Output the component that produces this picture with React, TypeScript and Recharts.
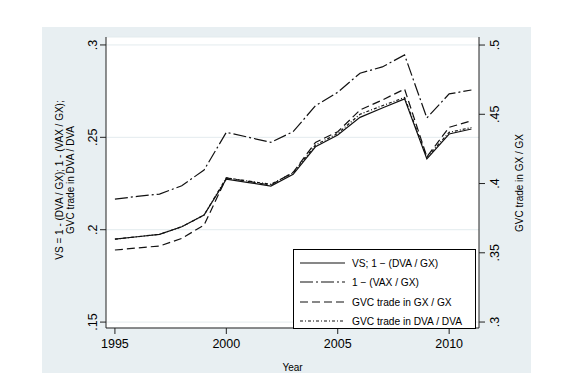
import { ComposedChart, Line, XAxis, YAxis, CartesianGrid, Legend } from 'recharts';

const YEARS = [1995, 1996, 1997, 1998, 1999, 2000, 2001, 2002, 2003, 2004, 2005, 2006, 2007, 2008, 2009, 2010, 2011];

// left axis
const VS = [0.1949, 0.1962, 0.1975, 0.2016, 0.2079, 0.2274, 0.2255, 0.2236, 0.23, 0.2449, 0.2513, 0.2608, 0.2659, 0.2708, 0.2383, 0.2518, 0.2545];
const ONE_MINUS_VAX = [0.2166, 0.218, 0.2193, 0.2238, 0.2323, 0.2527, 0.25, 0.2473, 0.2531, 0.2671, 0.2744, 0.2847, 0.2881, 0.2946, 0.2605, 0.2735, 0.2756];
const GVC_DVA = [0.1949, 0.1962, 0.1975, 0.2016, 0.2079, 0.2281, 0.2263, 0.2246, 0.2308, 0.2458, 0.2521, 0.2625, 0.2671, 0.2716, 0.2392, 0.2527, 0.2553];
// right axis
const GVC_GX = [0.352, 0.3535, 0.3549, 0.3604, 0.37, 0.404, 0.4015, 0.3989, 0.4081, 0.4297, 0.4374, 0.4531, 0.4603, 0.4682, 0.4193, 0.4406, 0.4453];

const X_TICKS = [1995, 2000, 2005, 2010];
const LEFT_TICKS = [0.15, 0.2, 0.25, 0.3];
const RIGHT_TICKS = [0.3, 0.35, 0.4, 0.45, 0.5];

const data = YEARS.map((year, i) => ({
  year,
  vs: VS[i],
  vax: ONE_MINUS_VAX[i],
  gx: GVC_GX[i],
  dva: GVC_DVA[i],
}));

const FONT = '"Liberation Sans", Arial, Helvetica, sans-serif';
const INK = '#111';

const SERIES = [
  { key: 'vs', axis: 'left', label: 'VS; 1 − (DVA / GX)', dash: undefined },
  { key: 'vax', axis: 'left', label: '1 − (VAX / GX)', dash: '13 3 2 3' },
  { key: 'gx', axis: 'right', label: 'GVC trade in GX / GX', dash: '8 4' },
  { key: 'dva', axis: 'left', label: 'GVC trade in DVA / DVA', dash: '3 2 1 2' },
];

const stataNum = (v: number) => String(v).replace(/^0/, '');

function LeftTick(p: any) {
  const x = p.x - 1;
  return (
    <text x={x} y={p.y} transform={`rotate(-90 ${x} ${p.y})`} textAnchor="middle"
      fontSize={12.5} fontFamily={FONT} fill="#000">
      {stataNum(p.payload.value)}
    </text>
  );
}

function RightTick(p: any) {
  const x = p.x + 12;
  return (
    <text x={x} y={p.y} transform={`rotate(-90 ${x} ${p.y})`} textAnchor="middle"
      fontSize={12.5} fontFamily={FONT} fill="#000">
      {stataNum(p.payload.value)}
    </text>
  );
}

function renderLegend() {
  const rows = [14, 33, 53, 72];
  return (
    <svg width={183} height={80} style={{ display: 'block' }}>
      <rect x={0.5} y={0.5} width={182} height={79} fill="#fff" stroke="#000" strokeWidth={1} />
      {SERIES.map((s, i) => (
        <g key={s.key}>
          <line x1={7} x2={52} y1={rows[i]} y2={rows[i]} stroke={INK} strokeWidth={1.2} strokeDasharray={s.dash} />
          <text x={59} y={rows[i] + 3.7} fontSize={10.2} fontFamily={FONT} fill="#000">{s.label}</text>
        </g>
      ))}
    </svg>
  );
}

export default function App() {
  return (
    <div style={{ position: 'absolute', left: 0, top: 0, width: 573, height: 379, background: '#fff' }}>
      <div style={{ position: 'absolute', left: 42, top: 27, width: 489, height: 346, background: '#e8eff2' }} />
      <div style={{ position: 'absolute', left: 0, top: 0 }}>
        <ComposedChart width={573} height={379} data={data} margin={{ top: 37, right: 0, bottom: 0, left: 0 }}>
          <CartesianGrid yAxisId="left" vertical={false} stroke="#e3ebee" fill="#fff" fillOpacity={1} />
          <XAxis dataKey="year" type="number" domain={[1994.6, 2011.34]} ticks={X_TICKS} height={51}
            tickSize={6} tickMargin={5} stroke="#222" allowDataOverflow
            tick={{ fontSize: 12.5, fill: '#000', fontFamily: FONT }}
            label={{
              content: () => (
                <text x={292.5} y={371} textAnchor="middle" fontSize={10} fontFamily={FONT} fill="#000">Year</text>
              ),
            }}
          />
          <YAxis yAxisId="left" orientation="left" width={106} domain={[0.1468, 0.3043]} ticks={LEFT_TICKS}
            tickSize={6} stroke="#222" allowDataOverflow tick={LeftTick}
            label={{
              content: () => (
                <g fontSize={10} fontFamily={FONT} fill="#000">
                  <text x={63} y={180} transform="rotate(-90 63 180)" textAnchor="middle">VS = 1 - (DVA / GX); 1 - (VAX / GX);</text>
                  <text x={74} y={180} transform="rotate(-90 74 180)" textAnchor="middle">GVC trade in DVA / DVA</text>
                </g>
              ),
            }}
          />
          <YAxis yAxisId="right" orientation="right" width={94} domain={[0.2957, 0.5058]} ticks={RIGHT_TICKS}
            tickSize={6} stroke="#222" allowDataOverflow tick={RightTick}
            label={{
              content: () => (
                <text x={523} y={183} transform="rotate(-90 523 183)" textAnchor="middle"
                  fontSize={10} fontFamily={FONT} fill="#000">GVC trade in GX / GX</text>
              ),
            }}
          />
          {SERIES.map(s => (
            <Line key={s.key} yAxisId={s.axis} type="linear" dataKey={s.key} stroke={INK} strokeWidth={1.2}
              strokeDasharray={s.dash} dot={false} activeDot={false} isAnimationActive={false} />
          ))}
          <Legend layout="horizontal" verticalAlign="middle" align="center" content={renderLegend}
            wrapperStyle={{ left: 293, top: 249, width: 183, height: 80 }} />
        </ComposedChart>
      </div>
    </div>
  );
}
